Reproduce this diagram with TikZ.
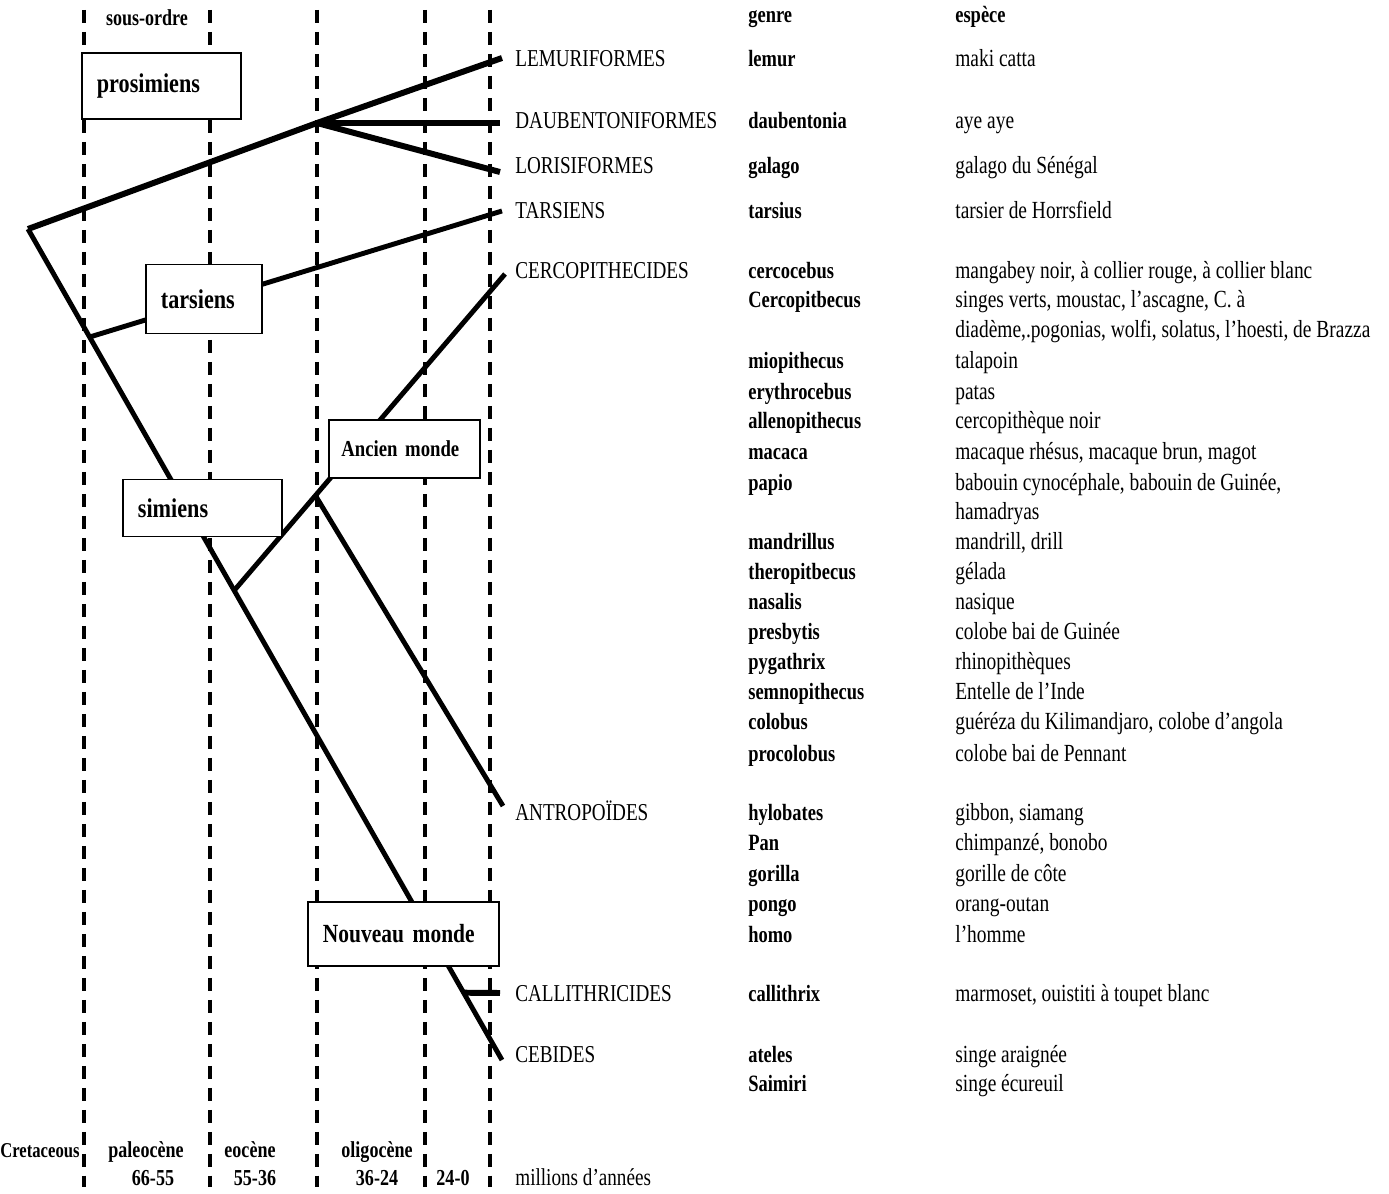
\documentclass[tikz,border=0pt]{standalone}
\usepackage{fontspec}
\setmainfont{Liberation Serif}[FakeStretch=0.79]
\newfontfamily\boxfont{Liberation Serif}[FakeStretch=0.82]
\usetikzlibrary{calc,positioning}

\begin{document}
\begin{tikzpicture}[
    x=0.02cm, y=-0.02cm,
    timeline/.style={line width=2pt, dash pattern=on 0.26cm off 0.18cm},
    branch/.style={line width=2.8pt},
    thickbranch/.style={line width=3.4pt},
    groupbox/.style={draw, fill=white, line width=1pt, anchor=west, align=left,
                     inner xsep=0.3cm, inner ysep=0pt,
                     font=\boxfont\bfseries\fontsize{15.4}{17}\selectfont},
    grouplbl/.style={anchor=west, inner sep=0pt, text height=0.3cm, text depth=0.08cm,
                     font=\fontsize{13.8}{16}\selectfont},
    genrelbl/.style={grouplbl, font=\bfseries\fontsize{13.3}{16}\selectfont},
    specieslbl/.style={grouplbl, font=\fontsize{14}{16}\selectfont},
    epochlbl/.style={inner sep=0pt, text height=0.3cm, text depth=0.08cm,
                     font=\bfseries\fontsize{13}{15}\selectfont},
  ]
    \useasboundingbox (0,0) rectangle (1389,1193);

    % time scale (dashed)
    \draw[timeline] (84,10) -- (84,1187);
    \draw[timeline] (210,10) -- (210,1187);
    \draw[timeline] (317,10) -- (317,1187);
    \draw[timeline] (425,10) -- (425,1187);
    \draw[timeline] (490,10) -- (490,1187);

    % branching points
    \coordinate (root) at (28,229);
    \coordinate (prosfork) at (317,123);
    \coordinate (lemurend) at (502,58);
    \coordinate (daubend) at (500,123);
    \coordinate (lorisend) at (500,172);
    \coordinate (tarsend) at (502,211);
    \coordinate (cebend) at (502,1060);
    \coordinate (tarsfork) at ($(root)!0.13!(cebend)$);
    \coordinate (ancfork) at ($(root)!0.435!(cebend)$);
    \coordinate (cercend) at (505,274);
    \coordinate (antfork) at ($(ancfork)!0.3!(cercend)$);
    \coordinate (antend) at (503,806);
    \coordinate (callfork) at ($(root)!0.919!(cebend)$);
    \coordinate (callend) at (500,993);

    % tree
    \draw[thickbranch] (root) -- (prosfork) -- (lemurend);
    \draw[thickbranch] (prosfork) -- (daubend);
    \draw[thickbranch] (prosfork) -- (lorisend);
    \draw[branch] (root) -- (cebend);
    \draw[branch] (tarsfork) -- (tarsend);
    \draw[branch] (ancfork) -- (cercend);
    \draw[branch] (antfork) -- (antend);
    \draw[thickbranch] (callfork) -- (callend);

    % sub-order boxes
    \node[groupbox, text width=2.58cm, minimum height=1.32cm] (prosim) at (81,86) {prosimiens};
    \node[groupbox, text width=1.72cm, minimum height=1.38cm] (tarsbox) at (145,299) {tarsiens};
    \node[groupbox, text width=2.52cm, minimum height=1.16cm, inner xsep=0.25cm,
          font=\boxfont\bfseries\fontsize{13}{15}\selectfont] (ancien) at (328,449) {Ancien monde};
    \node[groupbox, text width=2.58cm, minimum height=1.14cm] (simbox) at (122,508) {simiens};
    \node[groupbox, text width=3.22cm, minimum height=1.28cm,
          font=\boxfont\bfseries\fontsize{14.9}{17}\selectfont] (nouveau) at (307,934) {Nouveau monde};

    % families
    \node[grouplbl] (lemuri) at (515,61) {LEMURIFORMES};
    \node[grouplbl] (dauben) at (515,123) {DAUBENTONIFORMES};
    \node[grouplbl] (lorisi) at (515,168) {LORISIFORMES};
    \node[grouplbl] (tarsi) at (515,213) {TARSIENS};
    \node[grouplbl] (cerco) at (515,273) {CERCOPITHECIDES};
    \node[grouplbl] (antro) at (515,815) {ANTROPOÏDES};
    \node[grouplbl] (calli) at (515,996) {CALLITHRICIDES};
    \node[grouplbl] (cebid) at (515,1057) {CEBIDES};

    % genre column
    \node[genrelbl] (genre) at (748,17) {genre};
    \node[genrelbl] (lemur) at (748,61) {lemur};
    \node[genrelbl] (daub) at (748,123) {daubentonia};
    \node[genrelbl] (galago) at (748,168) {galago};
    \node[genrelbl] (tarsius) at (748,213) {tarsius};
    \node[genrelbl] (cercoc) at (748,273) {cercocebus};
    \node[genrelbl] (cercop) at (748,302) {Cercopitbecus};
    \node[genrelbl] (miopi) at (748,363) {miopithecus};
    \node[genrelbl] (erythro) at (748,394) {erythrocebus};
    \node[genrelbl] (alleno) at (748,423) {allenopithecus};
    \node[genrelbl] (macaca) at (748,454) {macaca};
    \node[genrelbl] (papio) at (748,485) {papio};
    \node[genrelbl] (mandri) at (748,544) {mandrillus};
    \node[genrelbl] (thero) at (748,574) {theropitbecus};
    \node[genrelbl] (nasalis) at (748,604) {nasalis};
    \node[genrelbl] (presby) at (748,634) {presbytis};
    \node[genrelbl] (pyga) at (748,664) {pygathrix};
    \node[genrelbl] (semno) at (748,694) {semnopithecus};
    \node[genrelbl] (colobus) at (748,724) {colobus};
    \node[genrelbl] (procol) at (748,756) {procolobus};
    \node[genrelbl] (hylo) at (748,815) {hylobates};
    \node[genrelbl] (pan) at (748,845) {Pan};
    \node[genrelbl] (gorilla) at (748,876) {gorilla};
    \node[genrelbl] (pongo) at (748,906) {pongo};
    \node[genrelbl] (homo) at (748,937) {homo};
    \node[genrelbl] (callix) at (748,996) {callithrix};
    \node[genrelbl] (ateles) at (748,1057) {ateles};
    \node[genrelbl] (saimiri) at (748,1086) {Saimiri};

    % species column
    \node[genrelbl] (espece) at (955,17) {espèce};
    \node[specieslbl] (slemur) at (955,61) {maki catta};
    \node[specieslbl] (sdaub) at (955,123) {aye aye};
    \node[specieslbl] (sgalago) at (955,168) {galago du Sénégal};
    \node[specieslbl] (starsius) at (955,213) {tarsier de Horrsfield};
    \node[specieslbl] (scercoc) at (955,273) {mangabey noir, à collier rouge, à collier blanc};
    \node[specieslbl] (scercop) at (955,302) {singes verts, moustac, l'ascagne, C. à};
    \node[specieslbl] (scercop2) at (955,332) {diadème,.pogonias, wolfi, solatus, l'hoesti, de Brazza};
    \node[specieslbl] (smiopi) at (955,363) {talapoin};
    \node[specieslbl] (serythro) at (955,394) {patas};
    \node[specieslbl] (salleno) at (955,423) {cercopithèque noir};
    \node[specieslbl] (smacaca) at (955,454) {macaque rhésus, macaque brun, magot};
    \node[specieslbl] (spapio) at (955,485) {babouin cynocéphale, babouin de Guinée,};
    \node[specieslbl] (spapio2) at (955,514) {hamadryas};
    \node[specieslbl] (smandri) at (955,544) {mandrill, drill};
    \node[specieslbl] (sthero) at (955,574) {gélada};
    \node[specieslbl] (snasalis) at (955,604) {nasique};
    \node[specieslbl] (spresby) at (955,634) {colobe bai de Guinée};
    \node[specieslbl] (spyga) at (955,664) {rhinopithèques};
    \node[specieslbl] (ssemno) at (955,694) {Entelle de l'Inde};
    \node[specieslbl] (scolobus) at (955,724) {guéréza du Kilimandjaro, colobe d'angola};
    \node[specieslbl] (sprocol) at (955,756) {colobe bai de Pennant};
    \node[specieslbl] (shylo) at (955,815) {gibbon, siamang};
    \node[specieslbl] (span) at (955,845) {chimpanzé, bonobo};
    \node[specieslbl] (sgorilla) at (955,876) {gorille de côte};
    \node[specieslbl] (spongo) at (955,906) {orang-outan};
    \node[specieslbl] (shomo) at (955,937) {l'homme};
    \node[specieslbl] (scallix) at (955,996) {marmoset, ouistiti à toupet blanc};
    \node[specieslbl] (sateles) at (955,1057) {singe araignée};
    \node[specieslbl] (ssaimiri) at (955,1086) {singe écureuil};

    % epochs and ages
    \node[epochlbl] (sousordre) at (147,20) {sous-ordre};
    \node[epochlbl, anchor=west, font=\bfseries\fontsize{12}{14}\selectfont] (creta) at (0,1152) {Cretaceous};
    \node[epochlbl] (paleo) at (146,1152) {paleocène};
    \node[epochlbl] (eocene) at (250,1152) {eocène};
    \node[epochlbl] (oligo) at (377,1152) {oligocène};
    \node[epochlbl] (age66) at (153,1180) {66-55};
    \node[epochlbl] (age55) at (255,1180) {55-36};
    \node[epochlbl] (age36) at (377,1180) {36-24};
    \node[epochlbl] (age24) at (453,1180) {24-0};
    \node[grouplbl] (mya) at (515,1180) {millions d'années};
  \end{tikzpicture}
\end{document}
